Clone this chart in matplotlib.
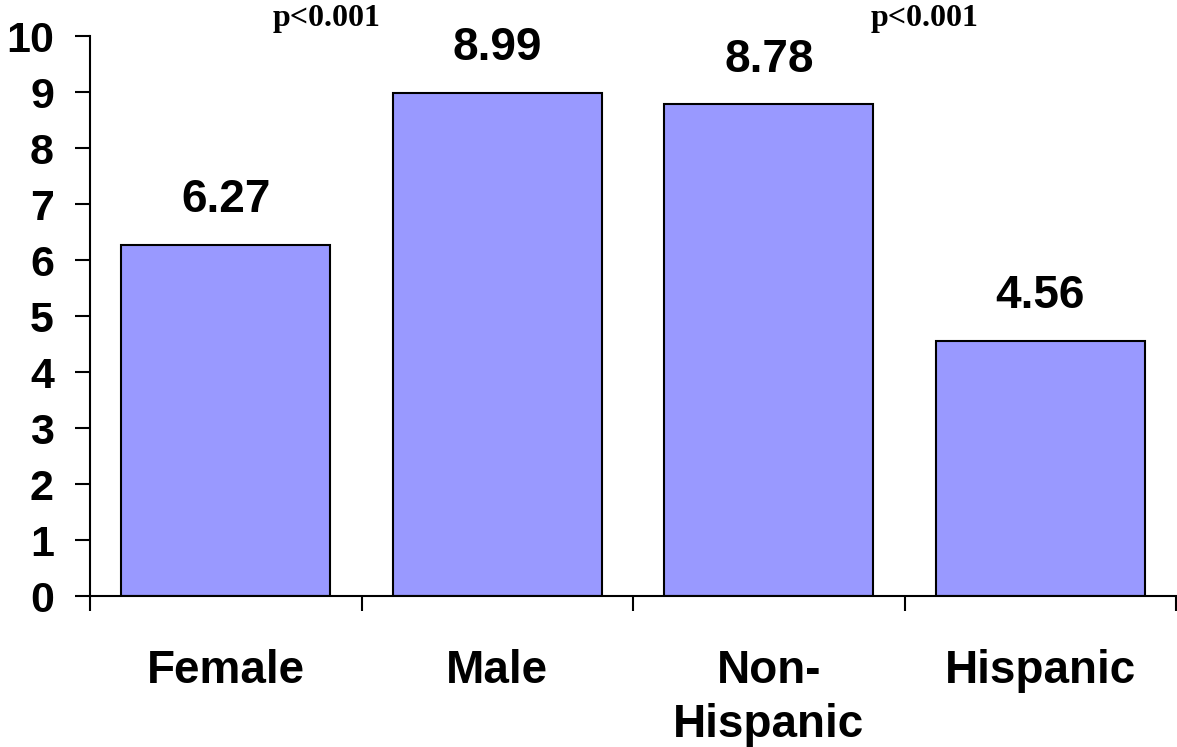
import numpy as np
import matplotlib
matplotlib.use("Agg")
import matplotlib.pyplot as plt

categories = ["Female", "Male", "Non-\nHispanic", "Hispanic"]
values = [6.27, 8.99, 8.78, 4.56]
value_labels = ["6.27", "8.99", "8.78", "4.56"]
pvalue_labels = ["p<0.001", "p<0.001"]
pvalue_x = [0.37, 2.575]

bar_color = "#9999ff"
sans = "Liberation Sans"
serif = "Liberation Serif"

fig = plt.figure(figsize=(11.77, 7.47), dpi=100)
ax = fig.add_axes([90 / 1177, 151 / 747, 1086 / 1177, 560 / 747])

x = np.arange(len(categories))
ax.bar(x, values, width=0.77, color=bar_color, edgecolor="black",
       linewidth=1.5, zorder=2)

for xi, v, lab in zip(x, values, value_labels):
    ax.annotate(lab, (xi, v), xytext=(0, 32), textcoords="offset points",
                ha="center", va="center", fontsize=33, fontweight="bold",
                family=sans)

for px, lab in zip(pvalue_x, pvalue_labels):
    ax.text(px, 10.32, lab, ha="center", va="center", fontsize=23,
            fontweight="bold", family=serif, clip_on=False)

ax.set_xlim(-0.5, 3.5)
ax.set_ylim(0, 10)

ax.set_yticks(np.arange(0, 11, 1))
ax.set_yticklabels([str(i) for i in range(11)], fontsize=31,
                   fontweight="bold", family=sans)
ax.tick_params(axis="y", length=11, width=1.5, pad=15)

ax.set_xticks(x)
ax.set_xticklabels(categories, fontsize=33, fontweight="bold", family=sans,
                   va="top", linespacing=1.3)
ax.tick_params(axis="x", which="major", length=0, pad=38)
ax.set_xticks(np.arange(-0.5, 4, 1), minor=True)
ax.tick_params(axis="x", which="minor", length=11, width=1.5)

for side in ["top", "right"]:
    ax.spines[side].set_visible(False)
for side in ["left", "bottom"]:
    ax.spines[side].set_linewidth(1.5)

fig.savefig("out.png", dpi=100)
